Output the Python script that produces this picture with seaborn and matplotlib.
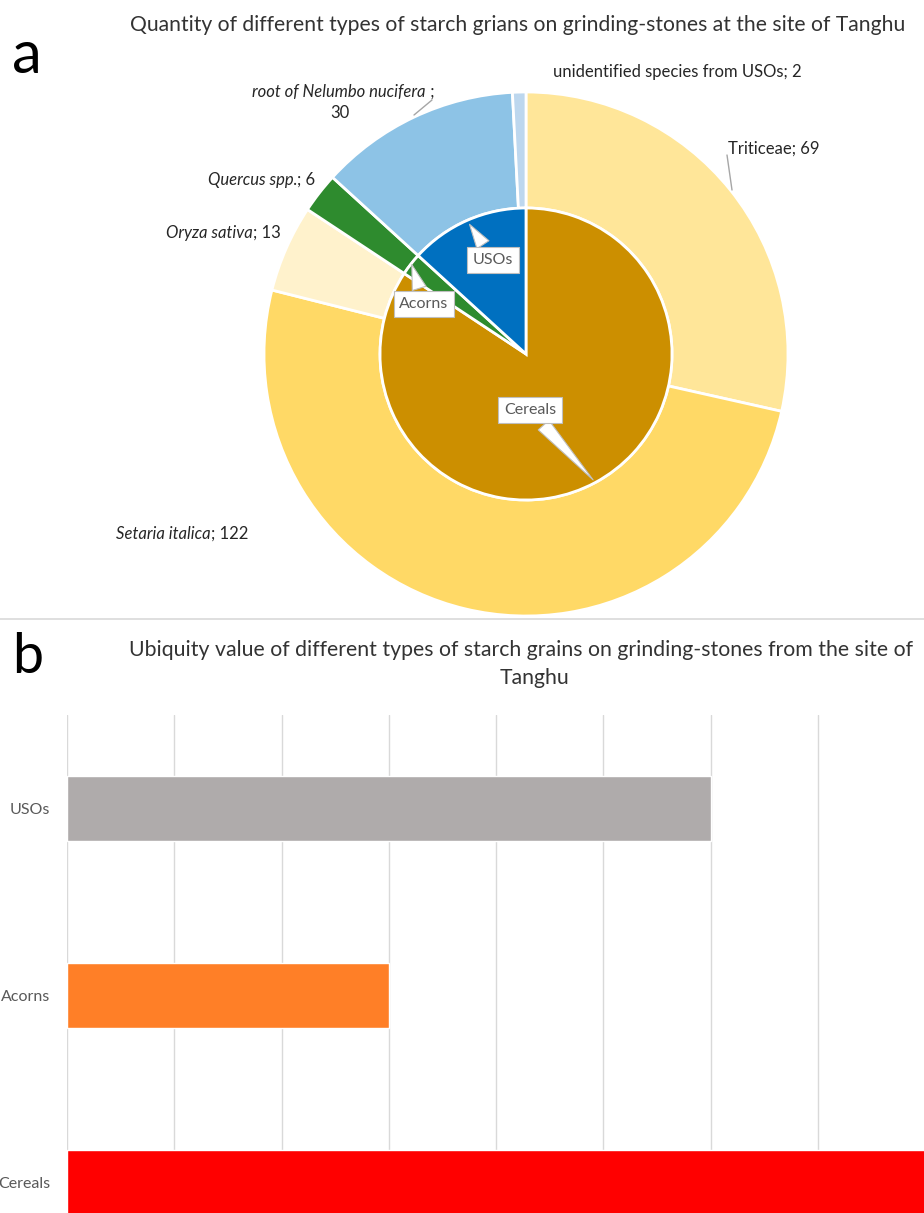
import matplotlib
matplotlib.use("Agg")
import matplotlib.pyplot as plt
import seaborn as sns
import pandas as pd

# pie data (outer ring = species, inner pie = groups)
species = ["Triticeae", "Setaria italica", "Oryza sativa", "Quercus spp.",
           "root of Nelumbo nucifera", "unidentified species from USOs"]
species_counts = [69, 122, 13, 6, 30, 2]
species_colors = ["#FFE699", "#FFD966", "#FFF2CC", "#2E8B2E", "#8DC3E6", "#BDD7EE"]

groups = ["Cereals", "Acorns", "USOs"]
group_counts = [204, 6, 32]
group_colors = ["#CC8F00", "#2E8B2E", "#0070C0"]

# ubiquity bar data
ubiq_cats = ["USOs", "Acorns", "Cereals"]
ubiq_vals = [0.6, 0.3, 1.0]
ubiq_colors = ["#AFABAB", "#FF7F27", "#FF0000"]

sns.set_theme(style="white")
plt.rcParams["font.family"] = ["Lato", "DejaVu Sans"]

W, H = 924, 1213
fig = plt.figure(figsize=(W / 100, H / 100), dpi=100)


def fp(x, y):
    # pixel position (from top-left) -> figure pixels
    return (x, H - y)


# ---- panel a: nested pie ----
cx, cy, R = 526, 354, 262
ax1 = fig.add_axes([(cx - R) / W, 1 - (cy + R) / H, 2 * R / W, 2 * R / H])
r_in = 146 / R
ax1.pie(species_counts, colors=species_colors, radius=1, startangle=90,
        counterclock=False,
        wedgeprops=dict(width=1 - r_in, edgecolor="white", linewidth=2))
ax1.pie(group_counts, colors=group_colors, radius=r_in, startangle=90,
        counterclock=False,
        wedgeprops=dict(edgecolor="white", linewidth=2))
ax1.set_xlim(-1, 1)
ax1.set_ylim(-1, 1)
ax1.set_aspect("equal")
ax1.axis("off")

tc = "#262626"
fs_lab = 12
fig.text(518 / W, 1 - 25 / H,
         "Quantity of different types of starch grians on grinding-stones at the site of Tanghu",
         ha="center", va="center", fontsize=15.2, color="#333333")
fig.text(12 / W, 1 - 73 / H, "a", ha="left", va="baseline", fontsize=43, color="black")

# species labels (italic name + regular count)
def split_label(x, y, name, rest, italic=True):
    fig.text(x / W, 1 - y / H, name, ha="right", va="center", fontsize=fs_lab,
             color=tc, style="italic" if italic else "normal")
    fig.text(x / W, 1 - y / H, rest, ha="left", va="center", fontsize=fs_lab, color=tc)

split_label(211, 534, species[1], "; " + str(species_counts[1]))
split_label(253, 233, species[2], "; " + str(species_counts[2]))
split_label(297, 180, species[3], "; " + str(species_counts[3]))
split_label(426, 92, species[4], " ;")
fig.text(340 / W, 1 - 113 / H, str(species_counts[4]), ha="center", va="center",
         fontsize=fs_lab, color=tc)
fig.text(553 / W, 1 - 72 / H, "%s; %d" % (species[5], species_counts[5]),
         ha="left", va="center", fontsize=fs_lab, color=tc)
fig.text(728 / W, 1 - 149 / H, "%s; %d" % (species[0], species_counts[0]),
         ha="left", va="center", fontsize=fs_lab, color=tc)

# leader lines
fig.add_artist(plt.Line2D([432 / W, 414 / W], [1 - 100 / H, 1 - 115 / H], color="#a6a6a6", lw=1))
fig.add_artist(plt.Line2D([727 / W, 732 / W], [1 - 155 / H, 1 - 190 / H], color="#a6a6a6", lw=1))

# callouts for the inner pie
callouts = [("USOs", (493, 260), (468, 222)),
            ("Acorns", (424, 304), (411, 262)),
            ("Cereals", (530, 410), (595, 482))]
for name, tpos, tip in callouts:
    ax1.annotate(name, xy=fp(*tip), xycoords="figure pixels",
                 xytext=fp(*tpos), textcoords="figure pixels",
                 ha="center", va="center", fontsize=11.5, color="#595959",
                 bbox=dict(boxstyle="square,pad=0.35", fc="white", ec="#bfbfbf", lw=0.8),
                 arrowprops=dict(arrowstyle="wedge,tail_width=0.9,shrink_factor=0.5",
                                 fc="white", ec="#bfbfbf", lw=0.8))

# separator between panels
fig.add_artist(plt.Line2D([0, 1], [1 - 619 / H, 1 - 619 / H], color="#d9d9d9", lw=1.2))

# ---- panel b: ubiquity bars ----
fig.text(12 / W, 1 - 673 / H, "b", ha="left", va="baseline", fontsize=40, color="black")
fig.text(521 / W, 1 - 650 / H,
         "Ubiquity value of different types of starch grains on grinding-stones from the site of",
         ha="center", va="center", fontsize=15.3, color="#333333")
fig.text(535 / W, 1 - 678 / H, "Tanghu",
         ha="center", va="center", fontsize=15.3, color="#333333")

left, right, top, bottom = 67, 1140, 715, 1276
ax2 = fig.add_axes([left / W, 1 - bottom / H, (right - left) / W, (bottom - top) / H])
df = pd.DataFrame({"cat": ubiq_cats, "val": ubiq_vals})
sns.barplot(data=df, y="cat", x="val", hue="cat", palette=ubiq_colors,
            legend=False, width=0.35, saturation=1, ax=ax2, orient="h")
ax2.set_xlim(0, 1)
ax2.set_ylim(2.5, -0.5)
ax2.set_xticks([i / 10 for i in range(11)])
ax2.set_xticklabels([])
ax2.grid(axis="x", color="#d9d9d9", lw=1)
ax2.set_axisbelow(True)
for s in ax2.spines.values():
    s.set_visible(False)
ax2.set_xlabel("")
ax2.set_ylabel("")
ax2.tick_params(axis="y", length=0, pad=12, labelsize=11.5, labelcolor="#595959")
ax2.tick_params(axis="x", length=0)

fig.savefig("out.png", dpi=100)
